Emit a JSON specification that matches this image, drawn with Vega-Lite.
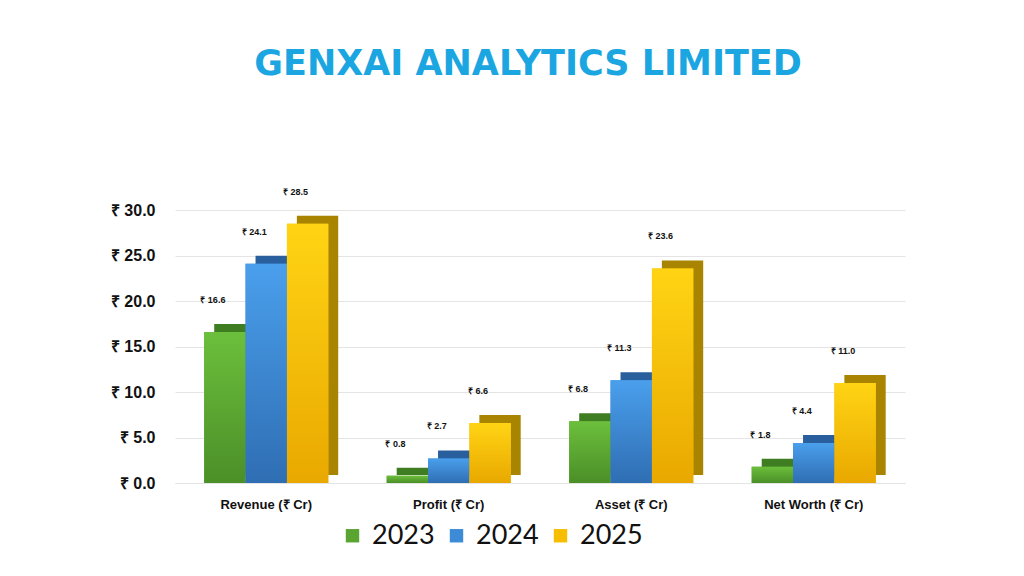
{
  "$schema": "https://vega.github.io/schema/vega-lite/v6.json",
  "autosize": {"type": "none"},
  "padding": {"left": 175, "top": 192, "right": 119, "bottom": 93},
  "width": 730,
  "height": 291,
  "background": "white",
  "title": {
    "text": "GENXAI ANALYTICS LIMITED",
    "anchor": "middle",
    "offset": 106,
    "dx": -12,
    "font": "DejaVu Sans",
    "fontSize": 35,
    "fontWeight": "bold",
    "color": "#1ba6e1"
  },
  "data": {
    "values": [
      {"Metric": "Revenue (₹ Cr)", "Year": "2023", "Value": 16.6},
      {"Metric": "Revenue (₹ Cr)", "Year": "2024", "Value": 24.1},
      {"Metric": "Revenue (₹ Cr)", "Year": "2025", "Value": 28.5},
      {"Metric": "Profit (₹ Cr)", "Year": "2023", "Value": 0.8},
      {"Metric": "Profit (₹ Cr)", "Year": "2024", "Value": 2.7},
      {"Metric": "Profit (₹ Cr)", "Year": "2025", "Value": 6.6},
      {"Metric": "Asset (₹ Cr)", "Year": "2023", "Value": 6.8},
      {"Metric": "Asset (₹ Cr)", "Year": "2024", "Value": 11.3},
      {"Metric": "Asset (₹ Cr)", "Year": "2025", "Value": 23.6},
      {"Metric": "Net Worth (₹ Cr)", "Year": "2023", "Value": 1.8},
      {"Metric": "Net Worth (₹ Cr)", "Year": "2024", "Value": 4.4},
      {"Metric": "Net Worth (₹ Cr)", "Year": "2025", "Value": 11.0}
    ]
  },
  "encoding": {
    "x": {
      "field": "Metric",
      "type": "nominal",
      "sort": null,
      "scale": {"paddingInner": 0.32, "paddingOuter": 0.16},
      "axis": {
        "title": null,
        "labelAngle": 0,
        "labelFont": "Liberation Sans",
        "labelFontSize": 13,
        "labelFontWeight": "bold",
        "labelColor": "#111111",
        "labelPadding": 15,
        "ticks": false,
        "domain": true,
        "domainColor": "#e4e4e4"
      }
    },
    "y": {
      "field": "Value",
      "type": "quantitative",
      "scale": {"domain": [0, 32]},
      "axis": {
        "title": null,
        "values": [0, 5, 10, 15, 20, 25, 30],
        "labelExpr": "'₹ ' + format(datum.value, '.1f')",
        "labelFont": "Liberation Sans",
        "labelFontSize": 16,
        "labelFontWeight": "bold",
        "labelColor": "#111111",
        "labelPadding": 20,
        "ticks": false,
        "domain": false,
        "gridColor": "#e4e4e4"
      }
    }
  },
  "layer": [
    {
      "layer": [
        {
          "transform": [{"filter": "datum.Year == '2023'"}],
          "mark": {"type": "bar", "color": "#3f7d22", "yOffset": -8, "y2Offset": -8}
        },
        {
          "transform": [{"filter": "datum.Year == '2024'"}],
          "mark": {"type": "bar", "color": "#2a5f9e", "yOffset": -8, "y2Offset": -8}
        },
        {
          "transform": [{"filter": "datum.Year == '2025'"}],
          "mark": {"type": "bar", "color": "#a88400", "yOffset": -8, "y2Offset": -8}
        }
      ],
      "encoding": {
        "xOffset": {"field": "Year", "type": "nominal", "scale": {"domain": ["2023", "2024", "2025"], "range": [10, 134]}}
      }
    },
    {
      "encoding": {
        "xOffset": {"field": "Year", "type": "nominal", "scale": {"domain": ["2023", "2024", "2025"]}}
      },
      "layer": [
        {
          "mark": {"type": "bar"},
          "encoding": {
            "color": {
              "field": "Year",
              "type": "nominal",
              "scale": {"domain": ["2023", "2024", "2025"], "range": ["#5aa532", "#3d8ad6", "#f7be00"]},
              "legend": {
                "title": null,
                "orient": "none",
                "legendX": 164,
                "legendY": 330,
                "direction": "horizontal",
                "symbolType": "square",
                "symbolSize": 180,
                "symbolStrokeWidth": 0,
                "labelFont": "Lato",
                "labelFontSize": 27,
                "labelOffset": 6,
                "labelColor": "#111111",
                "columnPadding": 8
              }
            }
          }
        },
        {
          "transform": [{"filter": "datum.Year == '2023'"}],
          "mark": {
            "type": "bar",
            "color": {"gradient": "linear", "x1": 0, "y1": 0, "x2": 0, "y2": 1,
              "stops": [{"offset": 0, "color": "#6cbf3c"}, {"offset": 1, "color": "#4b8f28"}]}
          }
        },
        {
          "transform": [{"filter": "datum.Year == '2024'"}],
          "mark": {
            "type": "bar",
            "color": {"gradient": "linear", "x1": 0, "y1": 0, "x2": 0, "y2": 1,
              "stops": [{"offset": 0, "color": "#4a9fec"}, {"offset": 1, "color": "#2f6eb3"}]}
          }
        },
        {
          "transform": [{"filter": "datum.Year == '2025'"}],
          "mark": {
            "type": "bar",
            "color": {"gradient": "linear", "x1": 0, "y1": 0, "x2": 0, "y2": 1,
              "stops": [{"offset": 0, "color": "#ffd414"}, {"offset": 1, "color": "#e9a800"}]}
          }
        },
        {
          "mark": {
            "type": "text",
            "text": {"expr": "'₹ ' + format(datum.Value, '.1f')"},
            "dx": -12,
            "dy": -32,
            "font": "Liberation Sans",
            "fontSize": 9,
            "fontWeight": "bold",
            "color": "#111111"
          }
        }
      ]
    }
  ],
  "resolve": {"scale": {"xOffset": "independent"}},
  "config": {
    "view": {"stroke": null}
  }
}
